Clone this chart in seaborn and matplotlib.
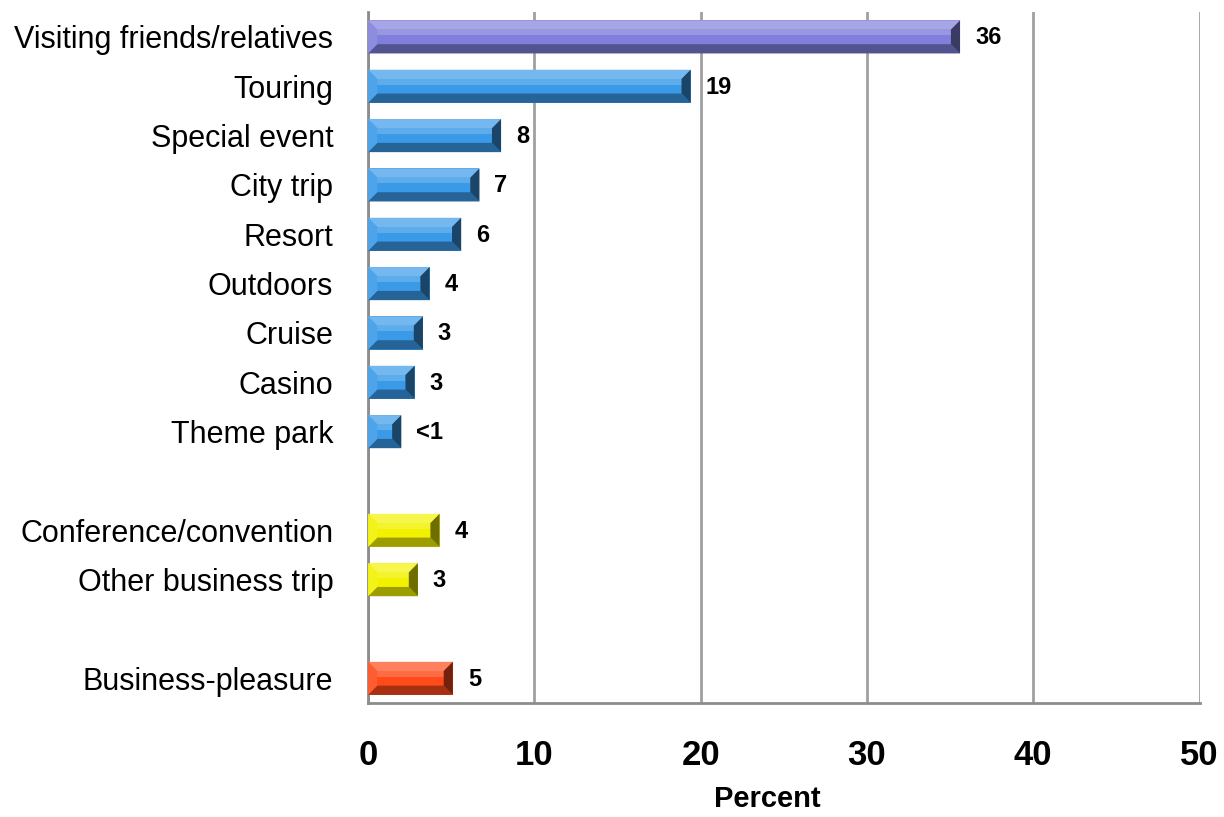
import numpy as np
import pandas as pd
import matplotlib
matplotlib.use("Agg")
import matplotlib.pyplot as plt
from matplotlib.patches import Polygon
from matplotlib.colors import to_rgb
import seaborn as sns

# Trip purposes (two blank spacer rows separate the groups)
categories = [
    "Visiting friends/relatives", "Touring", "Special event", "City trip",
    "Resort", "Outdoors", "Cruise", "Casino", "Theme park", " ",
    "Conference/convention", "Other business trip", "  ", "Business-pleasure",
]
plotted = [
    "Visiting friends/relatives", "Touring", "Special event", "City trip",
    "Resort", "Outdoors", "Cruise", "Casino", "Theme park",
    "Conference/convention", "Other business trip", "Business-pleasure",
]
percent = [35.6, 19.4, 8.0, 6.7, 5.6, 3.7, 3.3, 2.8, 2.0, 4.3, 3.0, 5.1]
value_labels = ["36", "19", "8", "7", "6", "4", "3", "3", "<1", "4", "3", "5"]
bar_colors = {
    "Visiting friends/relatives": "#8080dc",
    "Touring": "#3a9ae8", "Special event": "#3a9ae8", "City trip": "#3a9ae8",
    "Resort": "#3a9ae8", "Outdoors": "#3a9ae8", "Cruise": "#3a9ae8",
    "Casino": "#3a9ae8", "Theme park": "#3a9ae8",
    "Conference/convention": "#f2f200", "Other business trip": "#f2f200",
    "Business-pleasure": "#ff4a1a",
}
x_ticks = [0, 10, 20, 30, 40, 50]

sns.set_theme(style="white")
plt.rcParams["font.family"] = ["Liberation Sans", "DejaVu Sans"]
plt.rcParams["text.color"] = "black"
plt.rcParams["xtick.labelcolor"] = "black"
plt.rcParams["ytick.labelcolor"] = "black"
plt.rcParams["axes.labelcolor"] = "black"

df = pd.DataFrame({"purpose": plotted, "percent": percent})

fig = plt.figure(figsize=(12.24, 8.17), dpi=100)
ax = fig.add_axes([0.3007, 0.1395, 0.6793, 0.8455])

sns.barplot(data=df, y="purpose", x="percent", order=categories,
            hue="purpose", palette=bar_colors, legend=False,
            width=0.67, orient="h", ax=ax, linewidth=0, saturation=1)


def mix(c, other, t):
    c = np.array(to_rgb(c)); o = np.array(to_rgb(other))
    return tuple(c * (1 - t) + o * t)


# Bevelled look on each bar, built from the bar's own geometry
bars = [p for p in ax.patches]
for p in bars:
    x0, y0 = p.get_x(), p.get_y()
    w, h = p.get_width(), p.get_height()
    if not np.isfinite(w) or w <= 0:
        continue
    base = p.get_facecolor()
    bx = min(0.55, w * 0.3)
    by = h * 0.28
    x1, y1 = x0 + w, y0 + h  # y increases downward (inverted axis)
    # top facet (lighter)
    ax.add_patch(Polygon([(x0, y0), (x1, y0), (x1 - bx, y0 + by), (x0 + bx, y0 + by)],
                         closed=True, facecolor=mix(base, "white", 0.30), lw=0, zorder=3))
    # light streak under the top facet
    ax.add_patch(Polygon([(x0 + bx, y0 + by), (x1 - bx, y0 + by),
                          (x1 - bx, y0 + by * 1.6), (x0 + bx, y0 + by * 1.6)],
                         closed=True, facecolor=mix(base, "white", 0.18), lw=0, zorder=3))
    # bottom facet (darker)
    ax.add_patch(Polygon([(x0, y1), (x1, y1), (x1 - bx, y1 - by), (x0 + bx, y1 - by)],
                         closed=True, facecolor=mix(base, "black", 0.35), lw=0, zorder=3))
    # left facet
    ax.add_patch(Polygon([(x0, y0), (x0 + bx, y0 + by), (x0 + bx, y1 - by), (x0, y1)],
                         closed=True, facecolor=mix(base, "white", 0.10), lw=0, zorder=3))
    # right facet (darkest)
    ax.add_patch(Polygon([(x1, y0), (x1 - bx, y0 + by), (x1 - bx, y1 - by), (x1, y1)],
                         closed=True, facecolor=mix(base, "black", 0.55), lw=0, zorder=3))

# Value labels at the bar ends
for name, val, lab in zip(plotted, percent, value_labels):
    yi = categories.index(name)
    ax.text(val + 0.9, yi + 0.02, lab, va="center", ha="left",
            fontsize=17, fontweight="bold", color="black", zorder=5)

ax.set_xlim(0, 50)
ax.set_ylim(len(categories) - 0.5, -0.5)
ax.set_xticks(x_ticks)
ax.set_xticklabels([str(t) for t in x_ticks], fontsize=25, fontweight="bold")
ax.set_xlabel("Percent", fontsize=21, fontweight="bold")
ax.xaxis.set_label_coords(0.48, -0.118)
ax.set_ylabel("")
ax.tick_params(axis="y", which="major", length=0, pad=25, labelsize=22)
ax.set_yticks(np.arange(-0.5, len(categories), 1.0), minor=True)
ax.tick_params(axis="y", which="minor", length=10, width=2, color="#8c8c8c", direction="out")
ax.tick_params(axis="x", which="major", length=10, width=2, color="#8c8c8c",
               direction="out", pad=16)

ax.grid(axis="x", color="#a0a0a0", linewidth=2, zorder=0)
ax.set_axisbelow(True)
for s in ["top", "right"]:
    ax.spines[s].set_visible(False)
for s in ["left", "bottom"]:
    ax.spines[s].set_color("#8c8c8c")
    ax.spines[s].set_linewidth(2)

fig.savefig("out.png", dpi=100)
